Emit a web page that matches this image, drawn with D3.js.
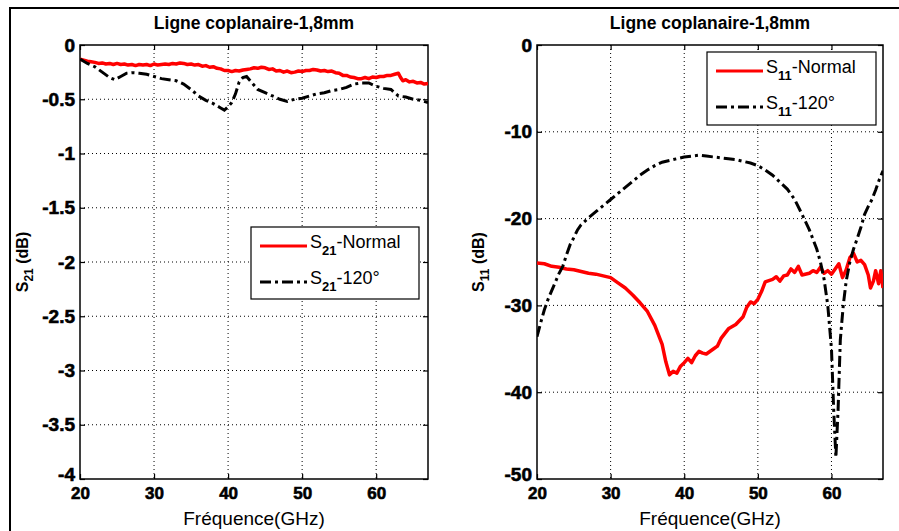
<!DOCTYPE html>
<html><head><meta charset="utf-8">
<script src="https://cdn.jsdelivr.net/npm/d3@7"></script>
<style>body{margin:0;background:#fff}svg{display:block}text{font-family:"Liberation Sans",Arial,sans-serif;fill:#000}</style>
</head><body><svg id="c" width="899" height="531"></svg>
<script>
// ---------- data ----------
const titleText = "Ligne coplanaire-1,8mm";
const xLabelText = "Fréquence(GHz)";
const xTicks = [20, 30, 40, 50, 60];
const yTicksS21 = [0, -0.5, -1, -1.5, -2, -2.5, -3, -3.5, -4];
const yTicksS11 = [0, -10, -20, -30, -40, -50];

const s21NormalF = [20,20.5,21,21.5,22,22.5,23,23.5,24,24.5,25,25.5,26,26.5,27,27.5,28,28.5,29,29.5,30,30.5,31,31.5,32,32.5,33,33.5,34,34.5,35,35.5,36,36.5,37,37.5,38,38.5,39,39.5,40,40.5,41,41.5,42,42.5,43,43.5,44,44.5,45,45.5,46,46.5,47,47.5,48,48.5,49,49.5,50,50.5,51,51.5,52,52.5,53,53.5,54,54.5,55,55.5,56,56.5,57,57.5,58,58.5,59,59.5,60,60.5,61,61.5,62,62.5,63,63.3,63.6,64,64.5,65,65.5,66,66.5,67];
const s21NormalV = [-0.13,-0.14,-0.15,-0.155,-0.16,-0.17,-0.165,-0.175,-0.17,-0.18,-0.17,-0.18,-0.175,-0.185,-0.18,-0.19,-0.18,-0.185,-0.18,-0.19,-0.175,-0.185,-0.18,-0.175,-0.18,-0.17,-0.175,-0.165,-0.17,-0.18,-0.175,-0.185,-0.18,-0.195,-0.19,-0.205,-0.2,-0.215,-0.22,-0.235,-0.235,-0.245,-0.235,-0.24,-0.23,-0.225,-0.22,-0.21,-0.215,-0.205,-0.21,-0.225,-0.22,-0.24,-0.235,-0.25,-0.24,-0.255,-0.25,-0.24,-0.245,-0.235,-0.235,-0.225,-0.23,-0.24,-0.235,-0.245,-0.24,-0.255,-0.26,-0.28,-0.28,-0.295,-0.3,-0.31,-0.31,-0.3,-0.31,-0.295,-0.3,-0.29,-0.29,-0.28,-0.28,-0.27,-0.26,-0.3,-0.33,-0.32,-0.34,-0.335,-0.35,-0.345,-0.36,-0.355];

const s21TiltF = [20,21,22,23,24,24.7,25.5,26.3,27,28,29,30,31,32,33,34,35,36,37,38,39,39.5,40,40.5,41,41.5,42,42.5,43,44,45,46,47,48,49,50,51,52,53,54,55,56,57,58,59,60,61,62,63,64,65,66,67];
const s21TiltV = [-0.13,-0.17,-0.2,-0.25,-0.3,-0.32,-0.29,-0.26,-0.255,-0.26,-0.27,-0.29,-0.31,-0.32,-0.33,-0.36,-0.41,-0.47,-0.51,-0.54,-0.58,-0.6,-0.57,-0.53,-0.45,-0.34,-0.3,-0.29,-0.33,-0.41,-0.44,-0.47,-0.5,-0.52,-0.5,-0.49,-0.47,-0.45,-0.44,-0.42,-0.41,-0.39,-0.36,-0.35,-0.35,-0.38,-0.4,-0.41,-0.47,-0.48,-0.5,-0.51,-0.53];

const s11NormalF = [20,21,22,23,24,25,26,27,28,29,30,31,32,33,34,35,36,37,37.5,38,38.5,39,39.5,40,40.5,41,41.5,42,42.5,43,44,44.5,45,46,47,48,48.5,49,49.5,50,50.5,51,52,52.5,53,53.5,54,54.5,55,55.5,56,57,57.5,58,58.5,59,59.5,60,60.5,61,61.5,62,62.5,63,63.5,64,64.5,65,65.3,65.7,66,66.4,66.7,67];
const s11NormalV = [-25.1,-25.2,-25.5,-25.6,-25.8,-25.9,-26.1,-26.3,-26.4,-26.6,-26.8,-27.4,-28.0,-28.8,-29.7,-30.7,-32.3,-34.5,-36.5,-38.0,-37.6,-37.8,-37.0,-36.6,-36.1,-36.6,-35.8,-35.3,-35.5,-35.6,-35.0,-34.7,-33.8,-32.7,-32.2,-31.3,-30.2,-29.6,-29.8,-29.3,-28.4,-27.3,-27.0,-26.7,-27.2,-26.6,-26.5,-25.8,-26.2,-25.5,-26.5,-26.3,-26.0,-26.2,-25.6,-26.3,-26.0,-26.4,-25.8,-25.2,-26.8,-25.9,-24.5,-24.0,-25.0,-24.8,-25.3,-26.5,-28.0,-27.2,-26.0,-27.5,-26.0,-28.0];

const s11TiltF = [20,20.5,21,21.5,22,22.5,23,23.5,24,24.5,25,25.5,26,27,28,29,30,31,32,33,34,35,36,37,38,39,40,41,42,43,44,45,46,47,48,49,50,51,52,53,54,55,56,57,58,58.5,59,59.5,60,60.3,60.6,60.9,61.2,61.6,62,62.5,63,63.5,64,64.5,65,65.5,66,66.5,67];
const s11TiltV = [-33.6,-32,-30.5,-29.3,-28.3,-27.3,-26.3,-25.5,-24.2,-23.0,-22.2,-21.3,-20.7,-19.9,-19.2,-18.5,-17.8,-17.1,-16.4,-15.7,-15.0,-14.4,-13.9,-13.5,-13.3,-13.1,-12.9,-12.8,-12.7,-12.8,-12.9,-13.0,-13.1,-13.2,-13.4,-13.6,-13.9,-14.4,-15.0,-15.8,-16.6,-17.8,-19.5,-21.3,-23.5,-25.0,-27.0,-30.0,-35.0,-42.0,-47.5,-42.0,-34.0,-30.0,-27.2,-25.0,-23.5,-22.3,-21.0,-19.5,-18.6,-17.8,-16.7,-15.5,-14.5];

const legendS21 = [{name:"S", sub:"21", rest:"-Normal", kind:"normal"}, {name:"S", sub:"21", rest:"-120°", kind:"tilt"}];
const legendS11 = [{name:"S", sub:"11", rest:"-Normal", kind:"normal"}, {name:"S", sub:"11", rest:"-120°", kind:"tilt"}];

// ---------- drawing ----------
const svg = d3.select("#c");
svg.append("path").attr("d","M10,531 V8 H899").attr("fill","none").attr("stroke","#000").attr("stroke-width",2);

const RED = "#ff0000";
const DASH = "11,4,3,4";
const FONT = "'Liberation Sans',Arial,sans-serif";

function panel(o){
  const x = d3.scaleLinear().domain([20,67]).range([o.left,o.right]);
  const y = d3.scaleLinear().domain(o.yDomain).range([o.bottom,o.top]);
  const g = svg.append("g");
  g.selectAll(".vg").data(xTicks.slice(1)).join("line")
    .attr("x1",d=>x(d)).attr("x2",d=>x(d)).attr("y1",o.top).attr("y2",o.bottom)
    .attr("stroke","#000").attr("stroke-width",1).attr("stroke-dasharray","1,3");
  g.selectAll(".hg").data(o.yTicks.slice(1,-1)).join("line")
    .attr("x1",o.left).attr("x2",o.right).attr("y1",d=>y(d)).attr("y2",d=>y(d))
    .attr("stroke","#000").attr("stroke-width",1).attr("stroke-dasharray","1,3");
  const ax = (gen, tr) => g.append("g").attr("transform",tr).call(gen);
  const xb = ax(d3.axisBottom(x).tickValues(xTicks).tickSizeInner(-5).tickSizeOuter(0).tickFormat(d=>String(d)), `translate(0,${o.bottom})`);
  const xt = ax(d3.axisTop(x).tickValues(xTicks).tickSizeInner(-5).tickSizeOuter(0).tickFormat(""), `translate(0,${o.top})`);
  const yl = ax(d3.axisLeft(y).tickValues(o.yTicks).tickSizeInner(-5).tickSizeOuter(0).tickFormat(d=>String(d)), `translate(${o.left},0)`);
  const yr = ax(d3.axisRight(y).tickValues(o.yTicks).tickSizeInner(-5).tickSizeOuter(0).tickFormat(""), `translate(${o.right},0)`);
  [xb,xt,yl,yr].forEach(a=>{a.select(".domain").remove(); a.attr("font-family",FONT);
    a.selectAll("line").attr("stroke","#000").attr("stroke-width",1.2);});
  xb.selectAll("text").attr("y",8).attr("dy","0.71em")
    .style("font-size","17px").style("font-weight","bold").attr("stroke","#000").attr("stroke-width",0.6);
  yl.selectAll("text").attr("x",-5)
    .style("font-size","19px").style("font-weight","bold").attr("stroke","#000").attr("stroke-width",0.6)
    .attr("dy",(d,i)=> i===o.yTicks.length-1 ? "0.1em" : "0.32em");
  g.append("rect").attr("x",o.left).attr("y",o.top).attr("width",o.right-o.left).attr("height",o.bottom-o.top)
    .attr("fill","none").attr("stroke","#000").attr("stroke-width",1.5);
  const line = (F,V)=> d3.line().x((d,i)=>x(F[i])).y((d,i)=>y(V[i]))(F);
  const clipId = "clip"+o.id;
  svg.append("clipPath").attr("id",clipId).append("rect").attr("x",o.left).attr("y",o.top).attr("width",o.right-o.left).attr("height",o.bottom-o.top);
  g.append("path").attr("d",line(o.nF,o.nV)).attr("fill","none").attr("stroke",RED).attr("stroke-width",3.5).attr("stroke-linejoin","round").attr("clip-path",`url(#${clipId})`);
  g.append("path").attr("d",line(o.tF,o.tV)).attr("fill","none").attr("stroke","#000").attr("stroke-width",3).attr("stroke-dasharray",DASH).attr("clip-path",`url(#${clipId})`);
  g.append("text").attr("x",(o.left+o.right)/2).attr("y",29).attr("text-anchor","middle")
    .style("font-size","17.5px").style("font-weight","bold").text(titleText);
  g.append("text").attr("x",(o.left+o.right)/2).attr("y",525).attr("text-anchor","middle")
    .style("font-size","19px").text(xLabelText);
  const yt = g.append("text").attr("transform",`translate(${o.ylabX},262) rotate(-90)`).attr("text-anchor","middle")
    .style("font-size","16px").style("font-weight","bold");
  yt.append("tspan").text("S");
  yt.append("tspan").attr("dy",5).style("font-size","12px").text(o.sub);
  yt.append("tspan").attr("dy",-5).text(" (dB)");
  const L = o.legend;
  const lg = g.append("g");
  lg.append("rect").attr("x",L.x).attr("y",L.y).attr("width",L.w).attr("height",L.h)
    .attr("fill","#fff").attr("stroke","#000").attr("stroke-width",1.2);
  o.legItems.forEach((it,i)=>{
    const ly = L.y + 19 + i*36;
    lg.append("line").attr("x1",L.x+9).attr("x2",L.x+56).attr("y1",ly).attr("y2",ly)
      .attr("stroke", it.kind==="normal"?RED:"#000").attr("stroke-width",3)
      .attr("stroke-dasharray", it.kind==="normal"?null:DASH);
    const t = lg.append("text").attr("x",L.x+59).attr("y",ly+2).style("font-size","18px");
    t.append("tspan").text(it.name);
    t.append("tspan").attr("dy",7).style("font-size","13px").style("font-weight","bold").text(it.sub);
    t.append("tspan").attr("dy",-7).text(it.rest);
  });
}

panel({id:"a", left:80, right:428, top:45, bottom:479, yDomain:[-4,0], yTicks:yTicksS21, sub:"21", ylabX:28,
  nF:s21NormalF, nV:s21NormalV, tF:s21TiltF, tV:s21TiltV,
  legend:{x:251,y:227,w:168,h:72}, legItems:legendS21});
panel({id:"b", left:537, right:883, top:45, bottom:479, yDomain:[-50,0], yTicks:yTicksS11, sub:"11", ylabX:484,
  nF:s11NormalF, nV:s11NormalV, tF:s11TiltF, tV:s11TiltV,
  legend:{x:707,y:52,w:169,h:73}, legItems:legendS11});
</script></body></html>
